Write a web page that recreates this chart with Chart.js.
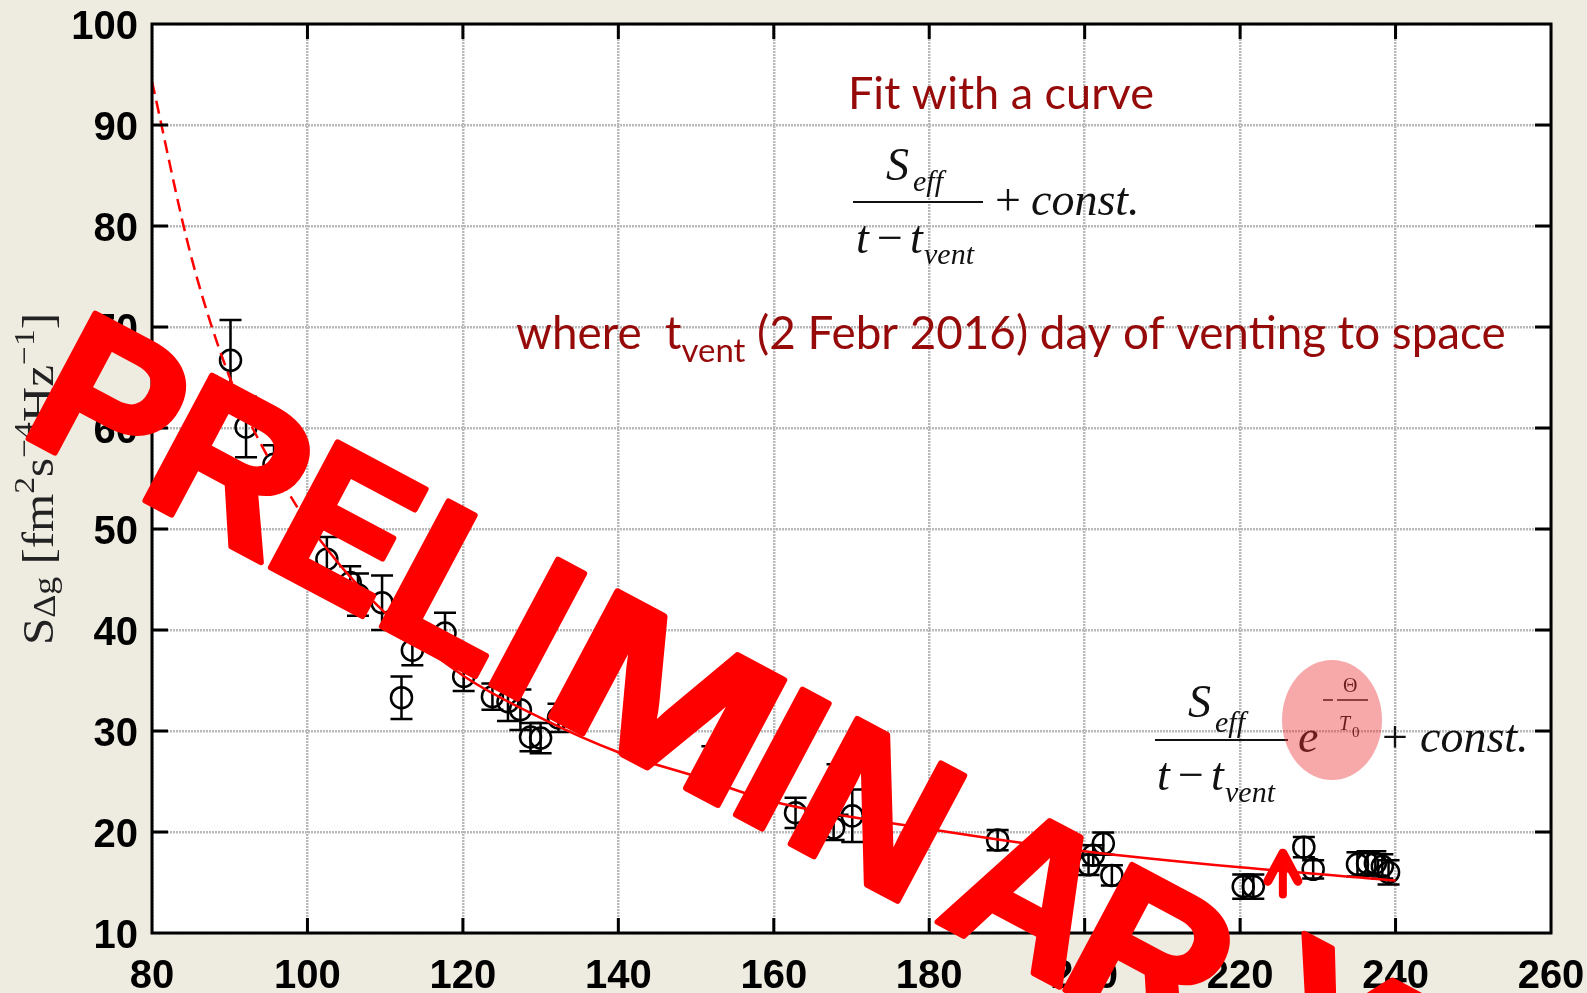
<!DOCTYPE html>
<html><head><meta charset="utf-8">
<script src="https://cdn.jsdelivr.net/npm/chart.js@4.4.0/dist/chart.umd.min.js"></script>
<style>html,body{margin:0;padding:0;background:#eeebe1;overflow:hidden}</style>
</head><body>
<canvas id="c" width="1587" height="993"></canvas>
<script>
// ---------- data ----------
const xTickValues = [80,100,120,140,160,180,200,220,240,260];
const yTickValues = [10,20,30,40,50,60,70,80,90,100];
const dayValues = [90.1,92.1,95.7,102.5,105.5,106.5,109.6,112.1,113.5,117.7,120.1,123.8,125.8,127.4,128.7,130.0,132.3,152.1,162.8,167.7,168.2,170.1,188.8,200.5,201.1,202.4,203.5,220.4,221.7,228.2,229.4,235.1,236.4,237.4,238.3,239.1];
const sValues   = [66.7,60.1,56.4,47.0,44.7,43.5,42.7,33.3,38.0,39.7,35.4,33.4,32.9,32.1,29.4,29.3,31.3,27.0,21.9,20.4,24.2,21.6,19.2,16.75,17.7,18.85,15.7,14.6,14.6,18.5,16.3,16.8,16.9,16.9,16.6,16.0];
const sErrors   = [4.0,3.0,1.9,2.2,1.6,2.1,2.7,2.1,1.5,2.0,1.45,1.3,1.9,2.0,1.4,1.5,1.4,1.5,1.5,1.2,2.5,2.6,1.0,1.0,1.0,1.1,1.0,1.2,1.2,1.0,0.9,1.2,1.2,1.2,1.2,1.2];
const fitDashX = [80,85,90,95,100];
const fitDashY = [94.3,77.1,65.0,57.0,50.5];
const fitX = [100,105,110,120,130,140,150,160,180,200,220,240];
const fitY = [50.5,45.7,41.7,35.5,31.3,27.9,25.5,23.0,20.3,18.1,16.5,15.2];
const arrowDay = 225.5;
const arrowFrom = 13.8, arrowTo = 18.2;

const RED = '#ff0000', DARKRED = '#960a0a';

function pts(xs, ys){ return xs.map((x,i)=>({x:x,y:ys[i]})); }

const bgPlugin = {
  id:'bg',
  beforeDraw(chart){
    const {ctx, chartArea:a} = chart;
    ctx.save();
    ctx.fillStyle = '#eeebe1';
    ctx.fillRect(0,0,chart.width,chart.height);
    ctx.fillStyle = '#ffffff';
    ctx.fillRect(a.left,a.top,a.right-a.left,a.bottom-a.top);
    ctx.restore();
  }
};

const errPlugin = {
  id:'err',
  beforeDatasetsDraw(chart){
    const {ctx} = chart; const xs = chart.scales.x, ys = chart.scales.y;
    ctx.save(); ctx.strokeStyle='#000'; ctx.lineWidth=2.5;
    dayValues.forEach((d,i)=>{
      const px = xs.getPixelForValue(d);
      const top = ys.getPixelForValue(sValues[i]+sErrors[i]);
      const bot = ys.getPixelForValue(sValues[i]-sErrors[i]);
      ctx.beginPath();
      ctx.moveTo(px,top); ctx.lineTo(px,bot);
      ctx.moveTo(px-11,top); ctx.lineTo(px+11,top);
      ctx.moveTo(px-11,bot); ctx.lineTo(px+11,bot);
      ctx.stroke();
    });
    ctx.restore();
  }
};

function t(ctx, s, x, y, font, color){
  ctx.font = font; ctx.fillStyle = color; ctx.fillText(s, x, y);
  return ctx.measureText(s).width;
}

const annPlugin = {
  id:'ann',
  afterDatasetsDraw(chart){
    const {ctx, chartArea:a} = chart; const xs = chart.scales.x, ys = chart.scales.y;
    ctx.save();
    ctx.strokeStyle='#000'; ctx.lineWidth=3;
    ctx.strokeRect(a.left, a.top, a.right-a.left, a.bottom-a.top);
    ctx.beginPath();
    xTickValues.slice(1,-1).forEach(v=>{
      const px = xs.getPixelForValue(v);
      ctx.moveTo(px,a.bottom); ctx.lineTo(px,a.bottom-15);
      ctx.moveTo(px,a.top); ctx.lineTo(px,a.top+15);
    });
    yTickValues.slice(1,-1).forEach(v=>{
      const py = ys.getPixelForValue(v);
      ctx.moveTo(a.left,py); ctx.lineTo(a.left+16,py);
      ctx.moveTo(a.right,py); ctx.lineTo(a.right-16,py);
    });
    ctx.stroke();
    ctx.restore();
  },
  afterDraw(chart){
    const {ctx} = chart; const xs = chart.scales.x, ys = chart.scales.y;
    ctx.save();
    ctx.textBaseline = 'alphabetic';
    // --- Fit with a curve ---
    ctx.font = '100px Lato';
    let w = ctx.measureText('Fit with a curve').width;
    let fs = 100*306/w;
    t(ctx,'Fit with a curve',848,109,fs+'px Lato',DARKRED);

    // --- where t_vent line ---
    const p1='where  t', p2='vent', p3=' (2 Febr 2016) day of venting to space';
    ctx.font='100px Lato'; const w1=ctx.measureText(p1).width, w3=ctx.measureText(p3).width;
    ctx.font='72px Lato'; const w2=ctx.measureText(p2).width;
    fs = 100*990/(w1+w2+w3);
    let x=516;
    x += t(ctx,p1,x,349,fs+'px Lato',DARKRED);
    x += t(ctx,p2,x,362,(fs*0.72)+'px Lato',DARKRED);
    t(ctx,p3,x,349,fs+'px Lato',DARKRED);

    // --- formula 1 ---
    const IT='italic 46px "Liberation Serif"', ITS='italic 30px "Liberation Serif"', UP='46px "Liberation Serif"';
    const K='#111';
    t(ctx,'S',886,180,IT,K);
    t(ctx,'eff',913,191,ITS,K);
    ctx.strokeStyle=K; ctx.lineWidth=2;
    ctx.beginPath(); ctx.moveTo(853,202); ctx.lineTo(983,202); ctx.stroke();
    t(ctx,'t',856,253,IT,K);
    t(ctx,'\u2212',877,253,UP,K);
    t(ctx,'t',910,253,IT,K);
    t(ctx,'vent',924,264,ITS,K);
    t(ctx,'+',995,215,UP,K);
    t(ctx,'const.',1031,215,IT,K);

    // --- formula 2 ---
    t(ctx,'S',1188,717,IT,K);
    t(ctx,'eff',1215,732,ITS,K);
    ctx.beginPath(); ctx.moveTo(1155,740); ctx.lineTo(1288,740); ctx.stroke();
    t(ctx,'t',1157,790,IT,K);
    t(ctx,'\u2212',1178,790,UP,K);
    t(ctx,'t',1211,790,IT,K);
    t(ctx,'vent',1225,802,ITS,K);
    t(ctx,'e',1298,752,IT,K);
    ctx.lineWidth=1.5;
    ctx.beginPath(); ctx.moveTo(1323,700); ctx.lineTo(1333,700); ctx.moveTo(1337,700); ctx.lineTo(1368,700); ctx.stroke();
    t(ctx,'\u0398',1343,692,'20px "Liberation Serif"',K);
    t(ctx,'T',1339,730,'italic 20px "Liberation Serif"',K);
    t(ctx,'0',1352,737,'15px "Liberation Serif"',K);
    t(ctx,'+',1382,752,UP,K);
    t(ctx,'const.',1420,752,IT,K);
    ctx.fillStyle='rgba(235,50,50,0.42)';
    ctx.beginPath(); ctx.ellipse(1332,720,50,60,0,0,Math.PI*2); ctx.fill();

    // --- arrow ---
    const ax = xs.getPixelForValue(arrowDay), ay0 = ys.getPixelForValue(arrowFrom), ay1 = ys.getPixelForValue(arrowTo);
    ctx.strokeStyle=RED; ctx.lineWidth=8; ctx.lineCap='round'; ctx.lineJoin='round';
    ctx.beginPath(); ctx.moveTo(ax,ay0); ctx.lineTo(ax,ay1+4); ctx.stroke();
    ctx.lineWidth=9;
    ctx.beginPath(); ctx.moveTo(ax-15,ay1+31); ctx.lineTo(ax,ay1+3); ctx.lineTo(ax+15,ay1+31); ctx.stroke();
    ctx.lineCap='butt';

    // --- y axis title ---
    ctx.save();
    ctx.translate(53,645); ctx.rotate(-Math.PI/2);
    const parts = [
      ['S','44px "Liberation Serif"',0],
      ['\u0394g','32px "Liberation Serif"',2],
      [' [fm','44px "Liberation Serif"',0],
      ['2','30px "Liberation Serif"',-19],
      ['s','44px "Liberation Serif"',0],
      ['\u22124','30px "Liberation Serif"',-19],
      ['Hz','44px "Liberation Serif"',0],
      ['\u22121','30px "Liberation Serif"',-19],
      [']','44px "Liberation Serif"',0]
    ];
    let tot=0; parts.forEach(p=>{ctx.font=p[1]; tot+=ctx.measureText(p[0]).width;});
    ctx.scale(332/tot,1);
    let xx=0;
    parts.forEach(p=>{ xx += t(ctx,p[0],xx,p[2],p[1],'#222'); });
    ctx.restore();

    // --- PRELIMINARY watermark: letters placed along a 28° baseline ---
    const word = 'PRELIMINARY';
    const along  = [-274,-142,0,126,250,318,527,589,756,900,1085];
    const raise  = [0,0,0,0,0,0,0,0,0,0,20];
    const widthK = [1,1,0.9,1,1,1.3,1,1,1,1,1];
    const size = 206;
    ctx.save();
    ctx.translate(270,567); ctx.rotate(28*Math.PI/180);
    ctx.font = 'bold '+size+'px "Liberation Sans"';
    ctx.fillStyle=RED; ctx.strokeStyle=RED; ctx.lineWidth=6; ctx.lineJoin='round';
    for(let i=0;i<word.length;i++){
      const m = ctx.measureText(word[i]);
      ctx.save();
      ctx.translate(along[i], -raise[i]); ctx.scale(widthK[i],1);
      ctx.fillText(word[i], m.actualBoundingBoxLeft, 0); ctx.strokeText(word[i], m.actualBoundingBoxLeft, 0);
      ctx.restore();
    }
    ctx.restore();

    ctx.restore();
  }
};

const tickFont = {family:'"Liberation Sans", Arial, sans-serif', size:40, weight:'bold'};

new Chart(document.getElementById('c'), {
  type:'scatter',
  data:{ datasets:[
    { type:'line', data:pts(fitX,fitY), borderColor:RED, borderWidth:2.5, pointRadius:0, fill:false, cubicInterpolationMode:'monotone' },
    { type:'line', data:pts(fitDashX,fitDashY), borderColor:RED, borderWidth:2.5, borderDash:[13,7], pointRadius:0, fill:false, cubicInterpolationMode:'monotone' },
    { data:pts(dayValues,sValues), pointRadius:10.5, pointBorderColor:'#000', pointBackgroundColor:'rgba(0,0,0,0)', pointBorderWidth:2.5, showLine:false }
  ]},
  options:{
    responsive:false, animation:false, devicePixelRatio:1,
    layout:{padding:{top:24,right:36,left:0,bottom:0}},
    plugins:{legend:{display:false}, tooltip:{enabled:false}},
    scales:{
      x:{ type:'linear', min:80, max:260,
          afterBuildTicks(s){ s.ticks = xTickValues.map(v=>({value:v})); },
          afterFit(s){ s.height = 60; s.paddingLeft = 0; s.paddingRight = 0; },
          ticks:{ font:tickFont, color:'#000', padding:20, maxRotation:0 },
          grid:{ color:'#b9b9b9', lineWidth:2.5, drawTicks:false },
          border:{ display:false, dash:[2,1] } },
      y:{ type:'linear', min:10, max:100,
          afterBuildTicks(s){ s.ticks = yTickValues.map(v=>({value:v})); },
          afterFit(s){ s.width = 152; s.paddingTop = 0; s.paddingBottom = 0; },
          ticks:{ font:tickFont, color:'#000', padding:14, labelOffset:4 },
          grid:{ color:'#b9b9b9', lineWidth:2.5, drawTicks:false },
          border:{ display:false, dash:[2,1] } }
    }
  },
  plugins:[bgPlugin, errPlugin, annPlugin]
});
</script>
</body></html>
